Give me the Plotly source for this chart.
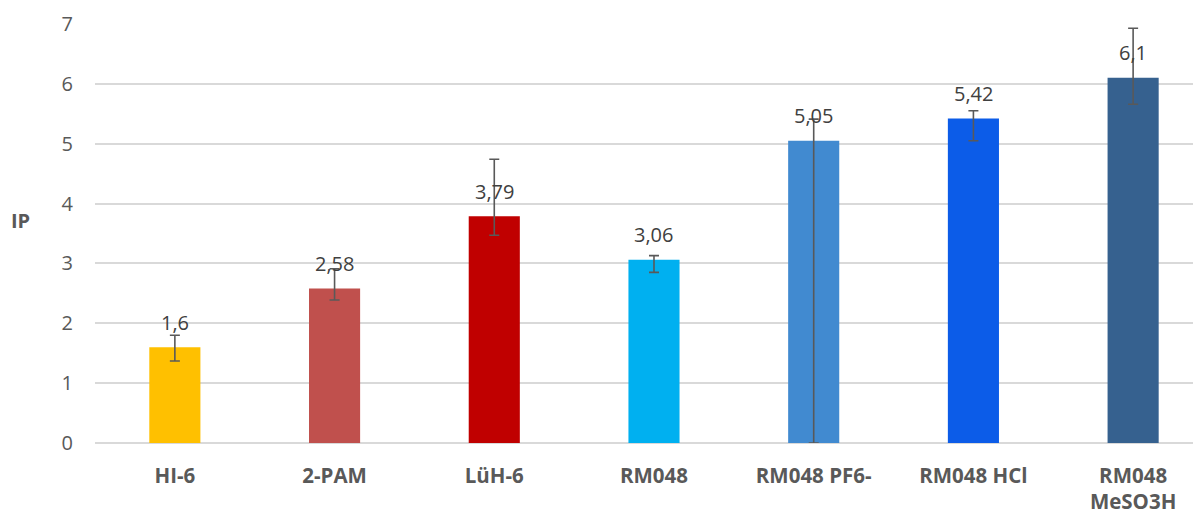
import plotly.graph_objects as go

categories = ["HI-6", "2-PAM", "LüH-6", "RM048", "RM048 PF6-", "RM048 HCl", "RM048<br>MeSO3H"]
values = [1.6, 2.58, 3.79, 3.06, 5.05, 5.42, 6.1]
err_plus = [0.2, 0.33, 0.95, 0.07, 0.36, 0.13, 0.83]
err_minus = [0.23, 0.19, 0.32, 0.21, 5.05, 0.37, 0.44]
labels = ["1,6", "2,58", "3,79", "3,06", "5,05", "5,42", "6,1"]
colors = ["#FFC000", "#C0504D", "#C00000", "#00B0F0", "#418AD0", "#0C5CE8", "#36618F"]
y_ticks = [0, 1, 2, 3, 4, 5, 6, 7]

FONT = "Open Sans"

fig = go.Figure()
fig.add_trace(go.Bar(
    x=list(range(len(categories))),
    y=values,
    width=0.32,
    marker=dict(color=colors, line=dict(width=0)),
    error_y=dict(type="data", symmetric=False, array=err_plus, arrayminus=err_minus,
                 color="#595959", thickness=1.6, width=5),
    hoverinfo="skip",
))

for i, (v, t) in enumerate(zip(values, labels)):
    fig.add_annotation(x=i, y=v, text=t, showarrow=False, yanchor="middle", yshift=25,
                       font=dict(family=FONT, size=20, color="#404040"))

fig.add_annotation(xref="paper", yref="paper", x=-0.078, y=0.53, xanchor="left", yanchor="middle",
                   text="<b>IP</b>", showarrow=False,
                   font=dict(family=FONT, size=20, color="#595959"))

fig.update_layout(
    width=1201, height=514,
    margin=dict(l=87, r=8, t=16, b=79, autoexpand=False),
    plot_bgcolor="white", paper_bgcolor="white",
    showlegend=False,
    xaxis=dict(
        tickmode="array", tickvals=list(range(len(categories))),
        ticktext=["<b>" + c.replace("<br>", "</b><br><b>") + "</b>" for c in categories],
        range=[-0.5, 6.425], showgrid=False, zeroline=False, showline=False,
        tickfont=dict(family=FONT, size=20.5, color="#595959"),
        ticks="", ticklabelstandoff=18, automargin=False, ticklabeloverflow="allow",
    ),
    yaxis=dict(
        range=[0, 7], tickvals=y_ticks, showgrid=True, gridcolor="#D9D9D9", gridwidth=1.5,
        zeroline=True, zerolinecolor="#D9D9D9", zerolinewidth=1.5, showline=False,
        tickfont=dict(family=FONT, size=20, color="#595959"),
        ticks="", ticklabelstandoff=21, ticklabeloverflow="allow", automargin=False,
    ),
)

fig.write_html("out.html")
